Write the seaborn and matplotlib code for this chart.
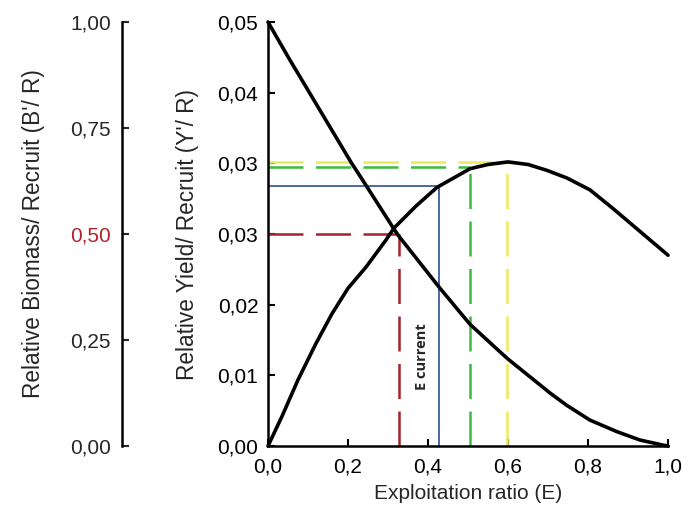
import numpy as np
import pandas as pd
import matplotlib
matplotlib.use("Agg")
import matplotlib.pyplot as plt
import seaborn as sns

# exploitation ratio vs relative yield per recruit
e_yield = [0.0, 0.035, 0.075, 0.12, 0.16, 0.2, 0.245, 0.295, 0.315, 0.37, 0.4225,
           0.505, 0.55, 0.6, 0.65, 0.6975, 0.7475, 0.805, 0.8625, 0.905, 0.955, 1.0]
yield_pr = [0.0, 0.0035, 0.0078, 0.0121, 0.0156, 0.0186, 0.0211, 0.0243, 0.0257, 0.0283, 0.0305,
            0.0327, 0.0332, 0.0335, 0.0332, 0.0325, 0.0316, 0.0302, 0.0280, 0.0263, 0.0243, 0.0225]

# exploitation ratio vs relative biomass per recruit
e_bio = [0.0, 0.055, 0.0925, 0.138, 0.209, 0.234, 0.314, 0.327, 0.43, 0.505, 0.58,
         0.6, 0.663, 0.705, 0.7467, 0.805, 0.8717, 0.93, 0.988, 1.0]
bio_pr = [1.0, 0.91, 0.851, 0.779, 0.667, 0.631, 0.513, 0.495, 0.372, 0.287, 0.222,
          0.205, 0.157, 0.125, 0.096, 0.061, 0.034, 0.014, 0.002, 0.0]

# reference points: E value, Y'/R level, colour, dashed?
ref_names = ["E50", "Ecurrent", "E01", "Emax"]
ref_e = [0.327, 0.428, 0.505, 0.598]
ref_y = [0.025, 0.0307, 0.0329, 0.0335]
ref_colors = ["#a3222b", "#2b4f94", "#3dbb3d", "#eeea55"]
ref_dashed = [True, False, True, True]

yield_ticks = [0, 0.05 / 6, 0.1 / 6, 0.025, 0.2 / 6, 0.25 / 6, 0.05]
bio_ticks = [0.0, 0.25, 0.5, 0.75, 1.0]
x_ticks = [0.0, 0.2, 0.4, 0.6, 0.8, 1.0]

sns.set_style("ticks")
plt.rcParams["font.family"] = ["Liberation Sans", "DejaVu Sans"]

fig = plt.figure(figsize=(6.99, 5.18), dpi=100)
ax = fig.add_axes([0.3834, 0.139, 0.5723, 0.8185])

df_y = pd.DataFrame({"E": e_yield, "Y": yield_pr})
sns.lineplot(data=df_y, x="E", y="Y", ax=ax, color="black", lw=2.6, clip_on=False)

for name, e, y, c, d in zip(ref_names, ref_e, ref_y, ref_colors, ref_dashed):
    lw = 1.8 if d else 1.2
    kw = dict(color=c, lw=lw, zorder=1)
    if d:
        kw["dashes"] = (14, 5)
    ax.plot([0, e], [y, y], **kw)
    ax.plot([e, e], [0, y], **kw)

ax.set_xlim(0, 1.0)
ax.set_ylim(0, 0.05)
ax.set_xticks(x_ticks)
ax.set_xticklabels([f"{v:.1f}".replace(".", ",") for v in x_ticks])
ax.set_yticks(yield_ticks)
ax.set_yticklabels([f"{v:.2f}".replace(".", ",") for v in yield_ticks])
ax.tick_params(direction="in", length=5, width=1.5, labelsize=15, pad=7, colors="black")
ax.tick_params(axis="x", pad=8)
for s in ["top", "right"]:
    ax.spines[s].set_visible(False)
for s in ["left", "bottom"]:
    ax.spines[s].set_linewidth(1.8)
    ax.spines[s].set_color("black")
ax.set_xlabel("Exploitation ratio (E)", fontsize=15, labelpad=6)
ax.set_ylabel("Relative Yield/ Recruit (Y'/ R)", fontsize=16.3, labelpad=13)

ax.text(0.385, 0.0105, "E current", rotation=90, fontsize=10.5, fontweight="bold",
        ha="center", va="center", family=["Open Sans", "DejaVu Sans"])

# second axis for biomass per recruit, spine moved out to the left
ax2 = ax.twinx()
df_b = pd.DataFrame({"E": e_bio, "B": bio_pr})
sns.lineplot(data=df_b, x="E", y="B", ax=ax2, color="black", lw=2.6, clip_on=False)
ax2.set_ylim(0, 1.0)
ax2.set_xlim(0, 1.0)
ax2.yaxis.set_ticks_position("left")
ax2.yaxis.set_label_position("left")
ax2.spines["left"].set_position(("axes", -0.365))
ax2.spines["left"].set_visible(True)
ax2.spines["left"].set_linewidth(1.8)
ax2.spines["left"].set_color("black")
for s in ["top", "right", "bottom"]:
    ax2.spines[s].set_visible(False)
ax2.set_yticks(bio_ticks)
ax2.set_yticklabels([f"{v:.2f}".replace(".", ",") for v in bio_ticks])
ax2.tick_params(axis="y", direction="in", length=5, width=1.5, labelsize=15, pad=8)
ax2.get_yticklabels()[2].set_color("#b0222c")
ax2.yaxis.get_major_ticks()[2].tick1line.set_color("#b0222c")
ax2.set_ylabel("Relative Biomass/ Recruit (B'/ R)", fontsize=16.3, labelpad=18)
ax2.set_xlabel("")

fig.savefig("out.png", dpi=100)
